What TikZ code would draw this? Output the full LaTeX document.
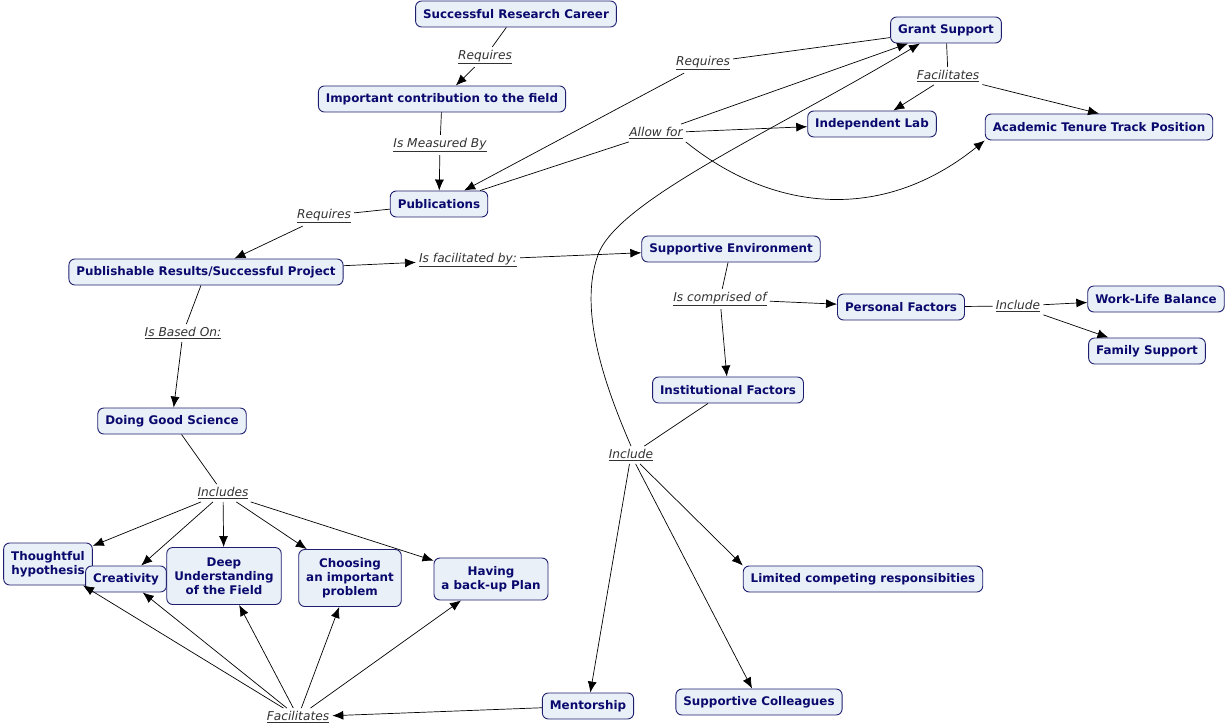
\documentclass[tikz,border=0pt]{standalone}
\usepackage{fontspec}
\setmainfont{DejaVu Sans}
\usetikzlibrary{arrows.meta}
\definecolor{nodefill}{RGB}{233,240,248}
\definecolor{nodeborder}{RGB}{30,30,110}
\definecolor{nodetext}{RGB}{10,10,110}
\definecolor{linktext}{RGB}{50,50,50}
\tikzset{
 concept/.style={draw=nodeborder, fill=nodefill, rounded corners=6pt, line width=0.9pt, text=nodetext, font=\fontsize{11.9}{14}\selectfont\bfseries, inner xsep=7.5pt, inner ysep=0pt, minimum height=26pt, align=center},
 link/.style={text=linktext, font=\fontsize{12.2}{14}\selectfont\itshape, inner sep=3pt},
 conn/.style={line width=0.7pt, draw=black},
 arr/.style={conn, -{Latex[length=11pt,width=9pt]}},
}
\begin{document}
\begin{tikzpicture}[x=1pt,y=-1pt]
\useasboundingbox (0,0) rectangle (1230,727);
% concepts
\node[concept] (src) at (516,14) {Successful Research Career};
\node[concept] (icf) at (442,99) {Important contribution to the field};
\node[concept] (pub) at (439,204) {Publications};
\node[concept] (prs) at (206,272) {Publishable Results/Successful Project};
\node[concept] (se) at (731,249) {Supportive Environment};
\node[concept] (gs) at (946,30) {Grant Support};
\node[concept] (il) at (872,124) {Independent Lab};
\node[concept] (att) at (1099,127) {Academic Tenure Track Position};
\node[concept] (pf) at (901,307) {Personal Factors};
\node[concept] (wlb) at (1156,299) {Work-Life Balance};
\node[concept] (fs) at (1147,351) {Family Support};
\node[concept] (inf) at (728,390) {Institutional Factors};
\node[concept] (dgs) at (172,421) {Doing Good Science};
\node[concept, minimum height=42pt] (th) at (48,564) {Thoughtful\\hypothesis};
\node[concept] (cr) at (126,579) {Creativity};
\node[concept, minimum height=57pt] (du) at (224,576) {Deep\\Understanding\\of the Field};
\node[concept, minimum height=57pt] (ch) at (350,578) {Choosing\\an important\\problem};
\node[concept, minimum height=42pt] (hb) at (491,579) {Having\\a back-up Plan};
\node[concept] (lim) at (863,579) {Limited competing responsibities};
\node[concept] (sc) at (759,702) {Supportive Colleagues};
\node[concept] (ment) at (588,706) {Mentorship};
% linking phrases
\node[link] (l1) at (485,57) {\underline{Requires}};
\node[link] (l2) at (440,145) {\underline{Is Measured By}};
\node[link] (l3) at (703,63) {\underline{Requires}};
\node[link] (l4) at (948,76) {\underline{Facilitates}};
\node[link] (l5) at (656,133) {\underline{Allow for}};
\node[link] (l6) at (324,216) {\underline{Requires}};
\node[link] (l7) at (468,260) {\underline{Is facilitated by:}};
\node[link] (l8) at (720,299) {\underline{Is comprised of}};
\node[link] (l9) at (1018,306) {\underline{Include}};
\node[link] (l10) at (183,333) {\underline{Is Based On:}};
\node[link] (l11) at (631,455) {\underline{Include}};
\node[link] (l12) at (223,493) {\underline{Includes}};
\node[link] (l13) at (298,717) {\underline{Facilitates}};
% connectors
\draw[conn] (src) -- (l1);
\draw[arr] (l1) -- (icf);
\draw[conn] (icf) -- (l2);
\draw[arr] (l2) -- (pub);
\draw[conn] (gs) -- (l3);
\draw[arr] (l3) -- (pub);
\draw[conn] (pub) -- (l5);
\draw[arr] (l5) -- (il);
\draw[arr] (l5) -- (gs);
\draw[arr] (l5.south east) .. controls (770,210) and (880,225) .. (att.south west);
\draw[conn] (gs) -- (l4);
\draw[arr] (l4) -- (il);
\draw[arr] (l4) -- (att.north);
\draw[conn] (pub) -- (l6);
\draw[arr] (l6) -- (prs);
\draw[arr] (prs) -- (l7);
\draw[arr] (l7) -- (se);
\draw[conn] (se) -- (l8);
\draw[arr] (l8) -- (pf);
\draw[arr] (l8) -- (inf);
\draw[conn] (pf) -- (l9);
\draw[arr] (l9) -- (wlb);
\draw[arr] (l9) -- (fs);
\draw[conn] (prs) -- (l10);
\draw[arr] (l10) -- (dgs);
\draw[conn] (dgs) -- (l12);
\draw[arr] (l12) -- (th);
\draw[arr] (l12) -- (cr);
\draw[arr] (l12) -- (du);
\draw[arr] (l12) -- (ch);
\draw[arr] (l12) -- (hb);
\draw[conn] (inf) -- (l11);
\draw[arr] (l11) -- (lim.north west);
\draw[arr] (l11) -- (sc);
\draw[arr] (l11) -- (ment);
\draw[arr] (l11.north) .. controls (605,386) and (578,310) .. (598,255) .. controls (617,200) and (780,128) .. ([xshift=-26pt]gs.south);
\draw[arr] (ment) -- (l13);
\draw[arr] (l13) -- (th);
\draw[arr] (l13) -- (cr);
\draw[arr] (l13) -- (du);
\draw[arr] (l13) -- (ch);
\draw[arr] (l13) -- (hb);
\end{tikzpicture}
\end{document}
